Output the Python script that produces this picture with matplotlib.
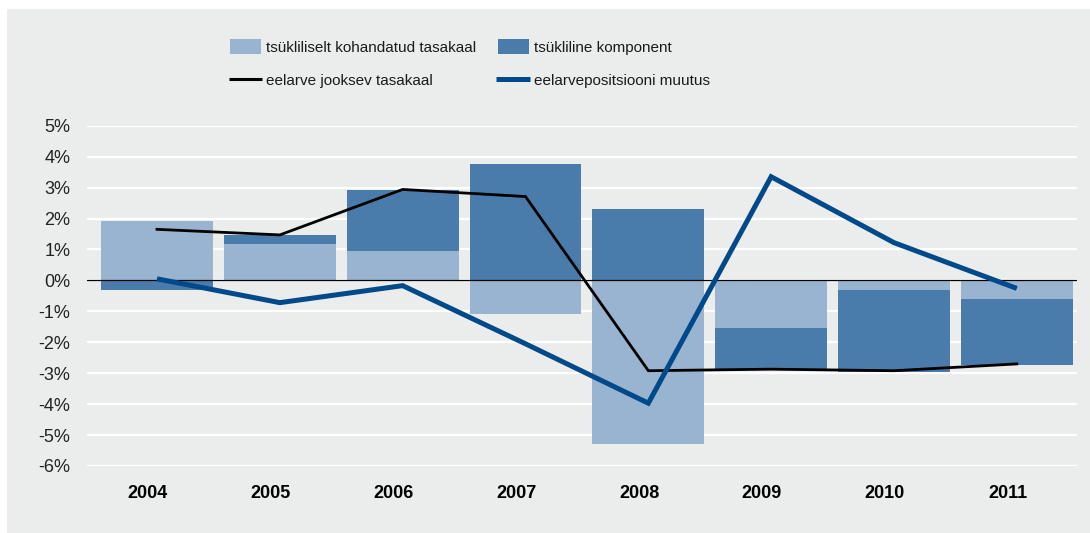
import matplotlib
matplotlib.use("Agg")
import matplotlib.pyplot as plt
from matplotlib.patches import Rectangle
from matplotlib.lines import Line2D
from matplotlib import font_manager
import numpy as np

plt.rcParams['font.family'] = ['Liberation Sans', 'DejaVu Sans']

years = ['2004', '2005', '2006', '2007', '2008', '2009', '2010', '2011']
adjusted = [1.92, 1.18, 0.95, -1.08, -5.28, -1.53, -0.31, -0.60]      # tsükliliselt kohandatud tasakaal
cyclical = [-0.31, 0.29, 1.97, 3.76, 2.31, -1.32, -2.64, -2.12]      # tsükliline komponent
balance = [1.65, 1.47, 2.94, 2.71, -2.92, -2.87, -2.92, -2.70]       # eelarve jooksev tasakaal
change = [0.05, -0.72, -0.17, -2.05, -3.97, 3.35, 1.22, -0.26]       # eelarvepositsiooni muutus
yticks = [5, 4, 3, 2, 1, 0, -1, -2, -3, -4, -5, -6]
legend_labels = ['tsükliliselt kohandatud tasakaal', 'tsükliline komponent',
                 'eelarve jooksev tasakaal', 'eelarvepositsiooni muutus']

c_light = '#99b4d0'
c_dark = '#4a7cab'
c_blue = '#00498a'
c_bg = '#ebeded'

# legend font: narrow if available
try:
    font_manager.findfont('Liberation Sans Narrow', fallback_to_default=False)
    leg_family, leg_size = ['Liberation Sans Narrow', 'DejaVu Sans'], 13
except Exception:
    leg_family, leg_size = ['Liberation Sans', 'DejaVu Sans'], 11

W, H = 1090, 533
fig = plt.figure(figsize=(W / 100, H / 100), dpi=100)
fig.patch.set_facecolor('white')
fig.add_artist(Rectangle((7 / W, 0), (W - 7) / W, (H - 9) / H, transform=fig.transFigure,
                         facecolor=c_bg, edgecolor='none', zorder=-10))

ax = fig.add_axes([87 / W, (H - 466) / H, (1077 - 87) / W, (466 - 125.7) / H])
ax.set_facecolor('none')

x = np.arange(len(years))
adj = np.array(adjusted)
cyc = np.array(cyclical)
cyc_bottom = np.where(np.sign(adj) == np.sign(cyc), adj, 0.0)

bw = 0.91
ax.bar(x, adj, width=bw, color=c_light, zorder=2, linewidth=0)
ax.bar(x, cyc, width=bw, bottom=cyc_bottom, color=c_dark, zorder=2, linewidth=0)

ax.axhline(0, color='black', linewidth=0.9, zorder=3)
ax.plot(x, balance, color='black', linewidth=2.0, zorder=4, solid_joinstyle='miter')
ax.plot(x, change, color=c_blue, linewidth=3.6, zorder=5, solid_joinstyle='miter',
        solid_capstyle='butt')

ax.set_xlim(-0.57, 7.49)
ax.set_ylim(-6, 5)
ax.set_yticks(yticks)
ax.set_yticklabels([f'{v}%' for v in yticks])
ax.set_xticks(x - 0.075)
ax.set_xticklabels(years, fontweight='bold')
ax.tick_params(axis='y', length=0, pad=12, labelsize=13, labelcolor='#222222')
ax.tick_params(axis='x', length=0, pad=14, labelsize=13, labelcolor='black')
ax.grid(axis='y', color='white', linewidth=1.6, zorder=0)
ax.set_axisbelow(True)
for s in ax.spines.values():
    s.set_visible(False)

# legend (drawn in figure pixel space)
def fx(px):
    return px / W

def fy(py):
    return (H - py) / H

rows = [46.7, 79.3]
cols = [230, 498]
fig.add_artist(Rectangle((fx(cols[0]), fy(54.3)), 31 / W, 15.3 / H, transform=fig.transFigure,
                         facecolor=c_light, edgecolor='none'))
fig.add_artist(Rectangle((fx(cols[1]), fy(54.3)), 31 / W, 15.3 / H, transform=fig.transFigure,
                         facecolor=c_dark, edgecolor='none'))
fig.add_artist(Line2D([fx(229), fx(262)], [fy(rows[1]), fy(rows[1])], transform=fig.transFigure,
                      color='black', linewidth=2.2, solid_capstyle='butt'))
fig.add_artist(Line2D([fx(496), fx(530)], [fy(rows[1]), fy(rows[1])], transform=fig.transFigure,
                      color=c_blue, linewidth=3.6, solid_capstyle='butt'))
text_pos = [(266, rows[0]), (534, rows[0]), (266, rows[1]), (534, rows[1])]
for (tx, ty), lab in zip(text_pos, legend_labels):
    fig.text(fx(tx), fy(ty), lab, ha='left', va='center_baseline', family=leg_family,
             fontsize=leg_size, color='#1a1a1a')

fig.savefig('out.png', dpi=100, facecolor=fig.get_facecolor())
